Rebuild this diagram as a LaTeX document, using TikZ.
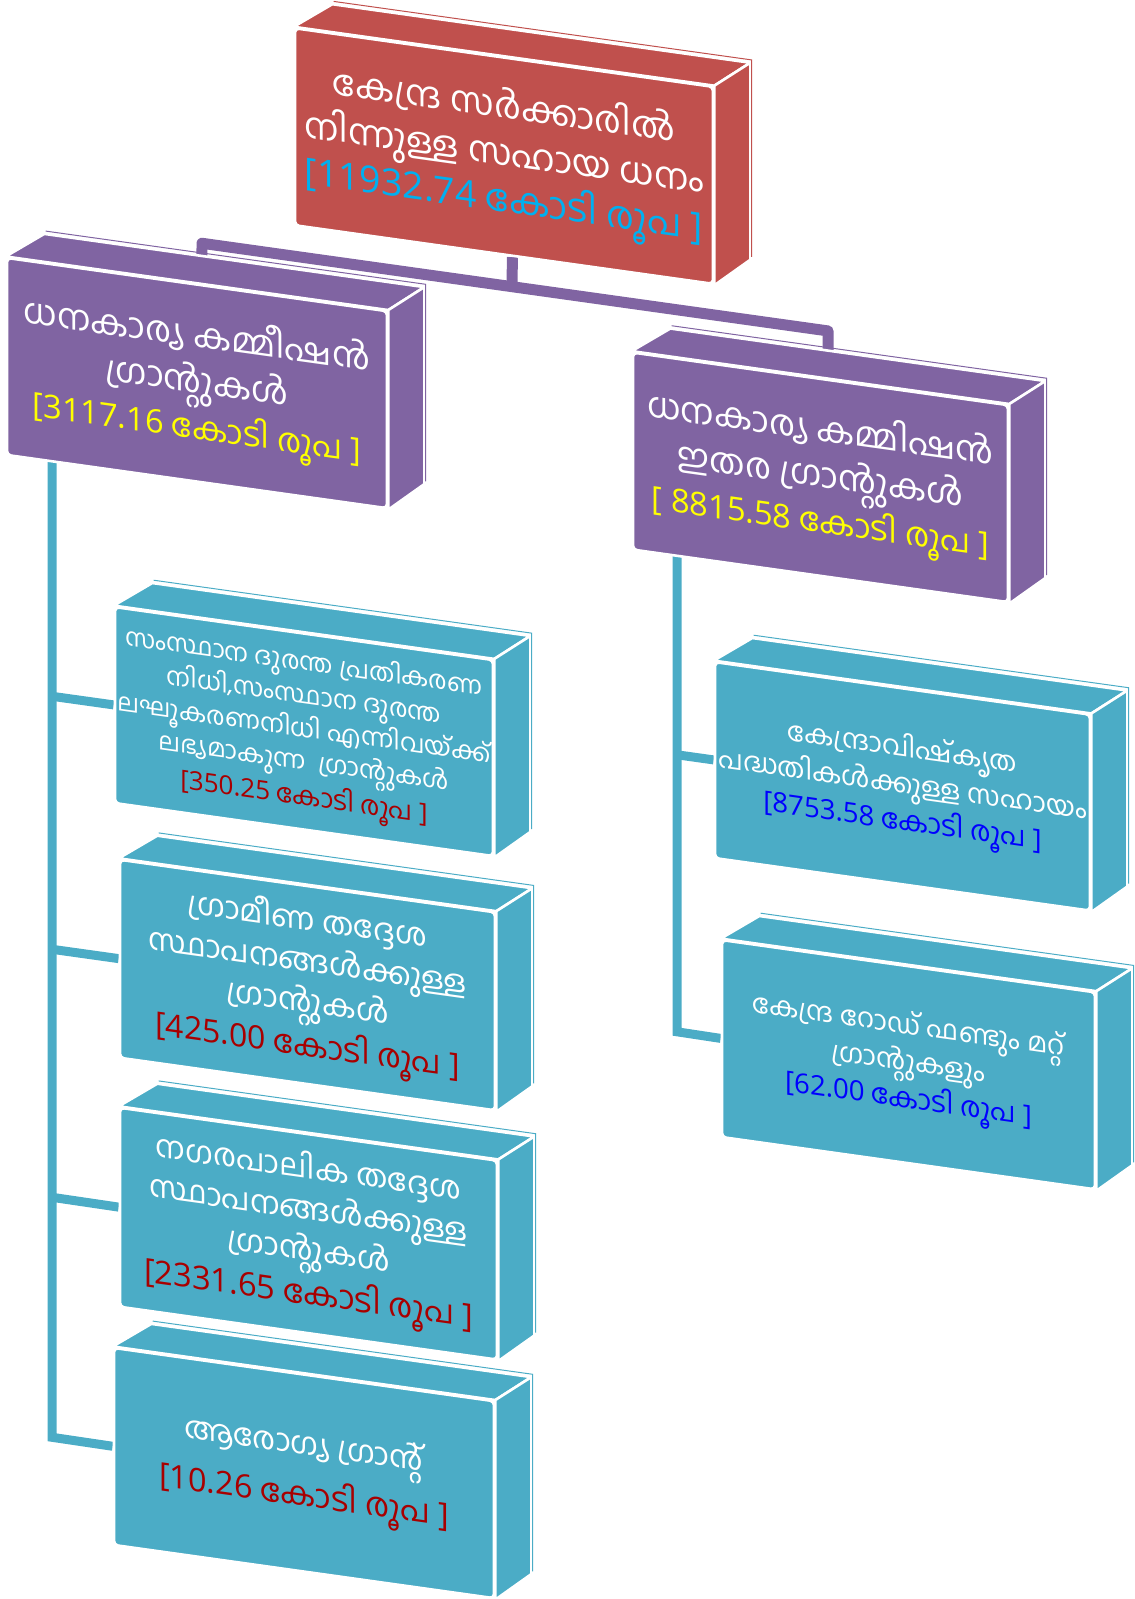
\documentclass[tikz,border=0pt]{standalone}
\usepackage{fontspec}
\newfontfamily\ml[Script=Malayalam]{Hind Kochi}
\newfontfamily\lat{Open Sans}
\usetikzlibrary{calc}
\definecolor{redbox}{HTML}{C0504D}
\definecolor{purp}{HTML}{8064A2}
\definecolor{tealbox}{HTML}{4BACC6}
\definecolor{cyantxt}{HTML}{00B0F0}
\definecolor{yeltxt}{HTML}{FFFF00}
\definecolor{darkredtxt}{HTML}{A80000}
\definecolor{bluetxt}{HTML}{0000FF}
\pgfdeclarelayer{bg}
\pgfsetlayers{bg,main}
\tikzset{
  face/.style={draw=white, line width=1.3pt, line join=round},
  frontface/.style={face, fill=#1, transform shape, inner sep=0pt, align=center, text=white, rounded corners=2pt},
  hairline/.style={draw=#1, line width=0.5pt},
  pconn/.style={draw=purp, line width=5.5pt, line join=round},
  tconn/.style={draw=tealbox, line width=4.5pt, line join=miter},
}
\newcommand\fs[2]{\fontsize{#1pt}{#2pt}\selectfont}
% #1 name, #2 X, #3 V, #4 W, #5 H, #6 colour, #7 font set-up, #8 text
\newcommand\slab[8]{%
  \node[frontface=#6, minimum width=#4*0.5pt, minimum height=#5*0.5pt,
        font=\ml#7] (#1) at (#2+#4/2, #3+#5/2) {#8};
  \path[face, fill=#6] (#1.north west) -- (#1.north east) -- ++(36,-28) -- ++(-#4,0) -- cycle;
  \path[face, fill=#6] (#1.north east) -- ++(36,-28) -- ++(0,#5) -- (#1.south east) -- cycle;
  \path[hairline=#6] ($(#1.north west)+(40,-31)$) -- ++(#4,0) -- ++(0,#5);
}
% #1 colour, #2 number, #3 size
\newcommand\amount[3]{{\fontsize{#3pt}{#3pt}\selectfont\color{#1}{\lat[#2} കോടി രൂപ {\lat]}}}
\begin{document}
\begin{tikzpicture}
\path[use as bounding box] (0,0) rectangle (567pt,-799.5pt);
\begin{scope}[x=0.5pt, y=-0.5pt, yslant=-0.14]
  \slab{red}{295}{-13}{418}{197}{redbox}{\fs{18}{23.5}}{കേന്ദ്ര സർക്കാരിൽ\\ നിന്നുള്ള സഹായ ധനം\\ \amount{cyantxt}{11932.74}{18.7}}
  \slab{pL}{7}{257}{380}{197}{purp}{\fs{17.5}{23}}{ധനകാര്യ കമ്മീഷൻ\\ ഗ്രാന്റുകൾ\\ \amount{yeltxt}{3117.16}{16.3}}
  \slab{pR}{633}{264}{375}{197}{purp}{\fs{17.5}{23}}{ധനകാര്യ കമ്മിഷൻ\\ ഇതര ഗ്രാന്റുകൾ\\ \amount{yeltxt}{\ 8815.58}{16.3}}
  \slab{t1}{115}{591}{378}{196}{tealbox}{\fs{12.5}{15.2}}{സംസ്ഥാന ദുരന്ത പ്രതികരണ\\ നിധി,സംസ്ഥാന ദുരന്ത\\ ലഘൂകരണനിധി എന്നിവയ്ക്ക്\\ ലഭ്യമാകുന്ന\ \ ഗ്രാന്റുകൾ\\ \amount{darkredtxt}{350.25}{13}}
  \slab{t2}{120}{843}{375}{198}{tealbox}{\fs{15.5}{20.5}}{ഗ്രാമീണ തദ്ദേശ\\ സ്ഥാപനങ്ങൾക്കുള്ള\\ ഗ്രാന്റുകൾ\\ \amount{darkredtxt}{425.00}{16}}
  \slab{t3}{120}{1091}{377}{199}{tealbox}{\fs{15.5}{20.5}}{നഗരപാലിക തദ്ദേശ\\ സ്ഥാപനങ്ങൾക്കുള്ള\\ ഗ്രാന്റുകൾ\\ \amount{darkredtxt}{2331.65}{16.3}}
  \slab{t4}{114}{1332}{380}{197}{tealbox}{\fs{15.5}{26}}{ആരോഗ്യ ഗ്രാന്റ്\\ \amount{darkredtxt}{10.26}{16.2}}
  \slab{r1}{715}{562}{375}{196}{tealbox}{\fs{13.5}{18.5}}{കേന്ദ്രാവിഷ്കൃത\\ പദ്ധതികൾക്കുള്ള സഹായം\\ \amount{bluetxt}{8753.58}{13.8}}
  \slab{r2}{722}{839}{373}{197}{tealbox}{\fs{13.5}{18.5}}{കേന്ദ്ര റോഡ് ഫണ്ടും മറ്റ്\\ ഗ്രാന്റുകളും\\ \amount{bluetxt}{62.00}{13.8}}
  \coordinate (jM) at (512,215);
  \coordinate (jL) at (202,215);
  \coordinate (jR) at (828,215);
  \coordinate (lt0) at (52,440);
  \coordinate (lt1) at (52,689);
  \coordinate (lt2) at (52,942);
  \coordinate (lt3) at (52,1190);
  \coordinate (lt4) at (52,1430);
  \coordinate (rt0) at (677,450);
  \coordinate (rt1) at (677,660);
  \coordinate (rt2) at (677,937);
  \begin{pgfonlayer}{bg}
    \draw[pconn] ($(red.south west)!0.52!(red.south east)$) -- (jM);
    \draw[pconn] ($(pL.north west)!0.513!(pL.north east)$) -- (jL) -- (jR) -- ($(pR.north west)!0.52!(pR.north east)$);
    \draw[tconn] (lt0) -- (lt4) -- (t4.west);
    \draw[tconn] (lt1) -- (t1.west);
    \draw[tconn] (lt2) -- (t2.west);
    \draw[tconn] (lt3) -- (t3.west);
    \draw[tconn] (rt0) -- (rt2) -- (r2.west);
    \draw[tconn] (rt1) -- (r1.west);
  \end{pgfonlayer}
\end{scope}
\end{tikzpicture}
\end{document}
